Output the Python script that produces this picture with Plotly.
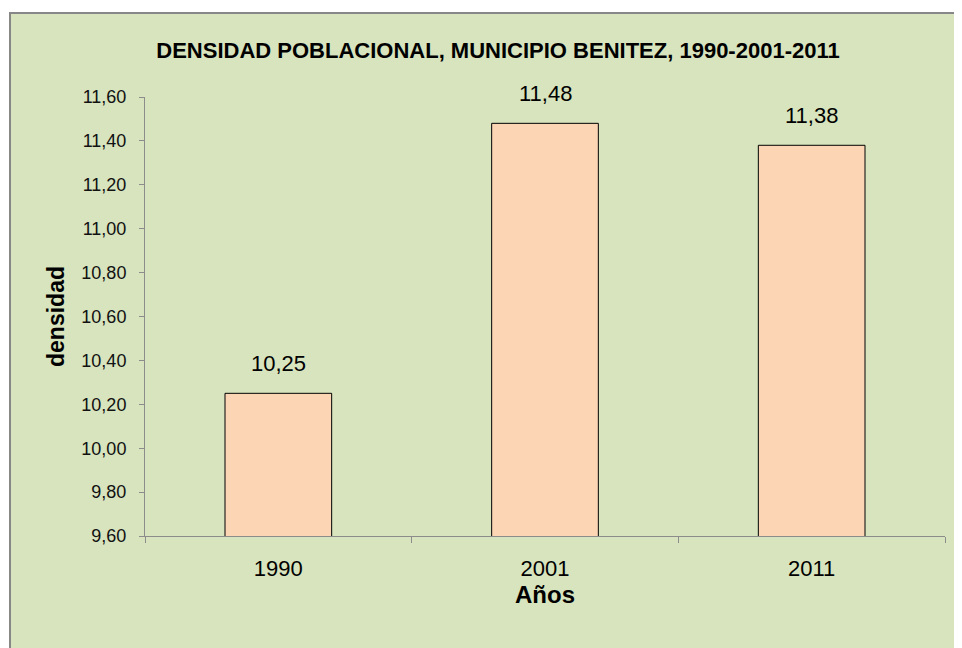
import plotly.graph_objects as go

categories = ["1990", "2001", "2011"]
values = [10.25, 11.48, 11.38]
y_ticks = [9.6, 9.8, 10.0, 10.2, 10.4, 10.6, 10.8, 11.0, 11.2, 11.4, 11.6]

BG = "#D7E4BD"
BAR = "#FCD5B5"
AXIS = "#8C8C8C"
FONT = "Liberation Sans, Arial, sans-serif"

# page has an 8px body margin; work in target-image pixel coordinates
OFF = 8
W, H = 962 - OFF, 648 - OFF
L = 145 - OFF
T = 97 - OFF
pw = 800
ph = 536 - 97
R = W - L - pw
B = H - T - ph


def px_x(p):
    return (p - OFF - L) / pw


def px_y(p):
    return (H - B - (p - OFF)) / ph


fig = go.Figure(go.Bar(
    x=categories, y=values,
    width=0.4,
    marker=dict(color=BAR, line=dict(color="#000000", width=1)),
    hoverinfo="x+y",
))

for i, v in enumerate(values):
    fig.add_annotation(x=i, y=v, xref="x", yref="y",
                       text=f"{v:.2f}".replace(".", ","),
                       showarrow=False, yanchor="bottom", yshift=15,
                       font=dict(family=FONT, size=22, color="#000000"))

fig.add_shape(type="rect", xref="paper", yref="paper",
              x0=px_x(10), x1=px_x(990), y0=px_y(680), y1=px_y(13),
              fillcolor=BG, line=dict(color="#878787", width=2), layer="below")

fig.update_layout(
    width=W, height=H,
    margin=dict(l=L, r=R, t=T, b=B, autoexpand=False),
    paper_bgcolor="#FFFFFF", plot_bgcolor="rgba(0,0,0,0)",
    separators=",.",
    showlegend=False,
    title=dict(text="<b>DENSIDAD POBLACIONAL, MUNICIPIO BENITEZ, 1990-2001-2011</b>",
               xref="container", yref="container",
               x=(498 - OFF) / W, xanchor="center", y=1 - (50 - OFF) / H, yanchor="middle",
               font=dict(family=FONT, size=22, color="#000000")),
    xaxis=dict(
        type="category", range=[-0.5, 2.5], showline=True, linecolor=AXIS, linewidth=1,
        ticks="outside", tickson="boundaries", ticklen=6, tickcolor=AXIS,
        tickfont=dict(family=FONT, size=22, color="#000000"),
        ticklabelstandoff=13,
        showgrid=False, zeroline=False,
        title=dict(text="<b>Años</b>", standoff=4,
                   font=dict(family=FONT, size=24, color="#000000")),
    ),
    yaxis=dict(
        range=[9.6, 11.6], tickvals=y_ticks, tickformat=".2f",
        showline=True, linecolor=AXIS, linewidth=1,
        ticks="outside", ticklen=5, tickcolor=AXIS,
        tickfont=dict(family=FONT, size=18, color="#111111"),
        ticklabelstandoff=9,
        showgrid=False, zeroline=False,
        title=dict(text="<b>densidad</b>", standoff=10,
                   font=dict(family=FONT, size=23, color="#000000")),
    ),
)

fig.write_html("out.html")
